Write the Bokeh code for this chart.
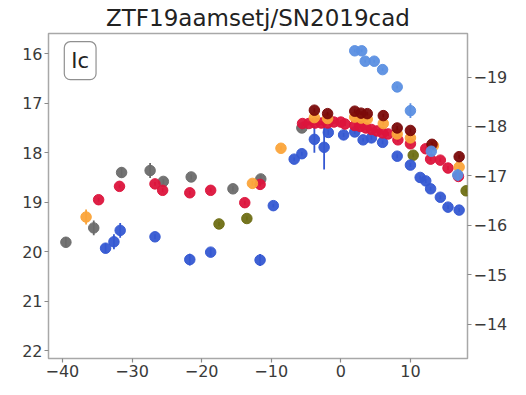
from bokeh.plotting import figure
from bokeh.models import Range1d, LinearAxis, FixedTicker, Label, ColumnDataSource
from bokeh.embed import file_html
from bokeh.resources import INLINE

# ---------------- data (phase in days, apparent mag, error) ----------------
g_days = [-33.8, -32.6, -31.7, -26.7, -21.7, -18.7, -11.6, -9.7, -6.7, -5.6, -3.8, -2.4, -1.8,
          0.4, 2.0, 3.2, 4.4, 6.0, 8.1, 10.0, 11.4, 12.2, 12.9, 14.3, 15.4, 17.0]
g_mags = [19.93, 19.80, 19.57, 19.70, 20.16, 20.01, 20.17, 19.07, 18.13, 18.02, 17.73, 17.89, 17.59,
          17.64, 17.58, 17.74, 17.70, 17.79, 18.07, 18.25, 18.50, 18.57, 18.73, 18.90, 19.10, 19.16]
g_errs = [0.10, 0.15, 0.15, 0.05, 0.12, 0.08, 0.12, 0.04, 0.04, 0.04, 0.27, 0.45, 0.05,
          0.04, 0.04, 0.04, 0.04, 0.04, 0.04, 0.04, 0.04, 0.04, 0.04, 0.04, 0.04, 0.04]

r_days = [-34.8, -31.8, -26.7, -25.6, -21.7, -18.7, -13.8, -11.6, -5.5, -4.6, -3.7, -2.8, -1.9,
          -1.0, 0.0, 0.6, 2.0, 2.8, 3.6, 4.4, 5.2, 6.0, 6.8, 8.2, 10.0, 12.2, 12.9, 14.3, 15.4, 16.9]
r_mags = [18.95, 18.68, 18.63, 18.76, 18.81, 18.76, 19.01, 18.64, 17.41, 17.41, 17.40, 17.40, 17.40,
          17.38, 17.38, 17.42, 17.45, 17.47, 17.50, 17.53, 17.56, 17.60, 17.62, 17.74, 17.82, 17.92,
          18.13, 18.15, 18.31, 18.48]
r_errs = [0.04] * len(r_days)

i_days = [-3.8, -1.9, 2.0, 2.9, 3.8, 6.1, 8.1, 10.0, 13.1, 17.0]
i_mags = [17.14, 17.21, 17.16, 17.20, 17.21, 17.25, 17.50, 17.55, 17.83, 18.08]
i_errs = [0.04] * len(i_days)

o_days = [-36.6, -12.7, -8.6, -3.8, -1.9, 2.0, 2.9, 3.8, 6.1, 8.1, 10.0, 13.3, 17.0]
o_mags = [19.30, 18.62, 17.91, 17.29, 17.31, 17.28, 17.30, 17.32, 17.41, 17.62, 17.70, 17.86, 18.29]
o_errs = [0.15, 0.05, 0.04, 0.04, 0.04, 0.04, 0.04, 0.04, 0.04, 0.04, 0.04, 0.06, 0.04]

c_days = [-39.5, -35.5, -31.5, -27.4, -25.5, -21.5, -15.5, -11.5, -5.6]
c_mags = [19.81, 19.52, 18.40, 18.36, 18.58, 18.49, 18.73, 18.53, 17.50]
c_errs = [0.10, 0.15, 0.10, 0.15, 0.05, 0.05, 0.05, 0.08, 0.05]

v_days = [-17.5, -13.5, 10.4, 18.0]
v_mags = [19.44, 19.33, 18.05, 18.77]
v_errs = [0.04, 0.04, 0.04, 0.04]

u_days = [2.0, 3.0, 3.5, 4.8, 6.0, 8.1, 10.0, 13.0, 16.8]
u_mags = [15.94, 15.94, 16.15, 16.15, 16.32, 16.67, 17.15, 17.97, 18.45]
u_errs = [0.03, 0.03, 0.03, 0.03, 0.03, 0.03, 0.15, 0.05, 0.12]

distance_modulus = 35.47

x_ticks = [-40, -30, -20, -10, 0, 10]
x_labels = ["\u221240", "\u221230", "\u221220", "\u221210", "0", "10"]
y_ticks = [16, 17, 18, 19, 20, 21, 22]
y_labels = ["16", "17", "18", "19", "20", "21", "22"]
abs_ticks = [-19, -18, -17, -16, -15, -14]
abs_labels = ["\u221219", "\u221218", "\u221217", "\u221216", "\u221215", "\u221214"]

title_text = "ZTF19aamsetj/SN2019cad"
type_text = "Ic"

# ---------------- figure ----------------
x_lo, x_hi = -42.0, 18.2
y_bright, y_faint = 15.59, 22.16

p = figure(width=510, height=379, output_backend="svg", toolbar_location=None,
           x_range=Range1d(x_lo, x_hi), y_range=Range1d(y_faint, y_bright),
           min_border_left=48, min_border_right=36, min_border_top=0, min_border_bottom=0)

p.title.text = title_text
p.title.align = "center"
p.title.text_font = "DejaVu Sans"
p.title.text_font_size = "23px"
p.title.text_font_style = "normal"
p.title.text_color = "#222222"
p.title.standoff = 5

p.xgrid.visible = False
p.ygrid.visible = False
p.outline_line_color = "#a8a8a8"
p.outline_line_width = 1.5
p.background_fill_color = "white"
p.border_fill_color = "white"

p.extra_y_ranges = {"abs": Range1d(y_faint - distance_modulus, y_bright - distance_modulus)}
right_axis = LinearAxis(y_range_name="abs")
p.add_layout(right_axis, "right")

def style_axis(ax, ticks, labels):
    ax.ticker = FixedTicker(ticks=ticks)
    ax.major_label_overrides = {t: l for t, l in zip(ticks, labels)}
    ax.axis_line_color = None
    ax.major_tick_line_color = "#8a8a8a"
    ax.major_tick_line_width = 1.2
    ax.major_tick_out = 4
    ax.major_tick_in = 0
    ax.minor_tick_line_color = None
    ax.major_label_text_font = "DejaVu Sans"
    ax.major_label_text_font_size = "16px"
    ax.major_label_text_color = "#3a3a3a"
    ax.major_label_standoff = 2

style_axis(p.xaxis[0], x_ticks, x_labels)
style_axis(p.yaxis[0], y_ticks, y_labels)
style_axis(right_axis, abs_ticks, abs_labels)

series = [
    (c_days, c_mags, c_errs, "#6b6b6b"),
    (v_days, v_mags, v_errs, "#6e6e14"),
    (g_days, g_mags, g_errs, "#3558d2"),
    (r_days, r_mags, r_errs, "#dc143c"),
    (o_days, o_mags, o_errs, "#fba43a"),
    (i_days, i_mags, i_errs, "#7a0a0a"),
    (u_days, u_mags, u_errs, "#5b8fe2"),
]

for d, m, e, col in series:
    src = ColumnDataSource(dict(x=d, y=m,
                                lo=[a - b for a, b in zip(m, e)],
                                hi=[a + b for a, b in zip(m, e)]))
    p.segment(x0="x", y0="lo", x1="x", y1="hi", source=src, line_color=col, line_width=1.8)
    p.scatter(x="x", y="y", source=src, size=10.5, fill_color=col, line_color=col,
              fill_alpha=0.95, line_alpha=0.95)

lab = Label(x=-37.45, y=16.14, text=type_text, text_font="DejaVu Sans", text_font_size="21px",
            text_color="#222222", text_align="center", text_baseline="middle",
            border_line_color="#909090", border_line_width=1.2, background_fill_color="white",
            padding=7, border_radius=6)
p.add_layout(lab)

open("out.html", "w").write(file_html(p, INLINE))
